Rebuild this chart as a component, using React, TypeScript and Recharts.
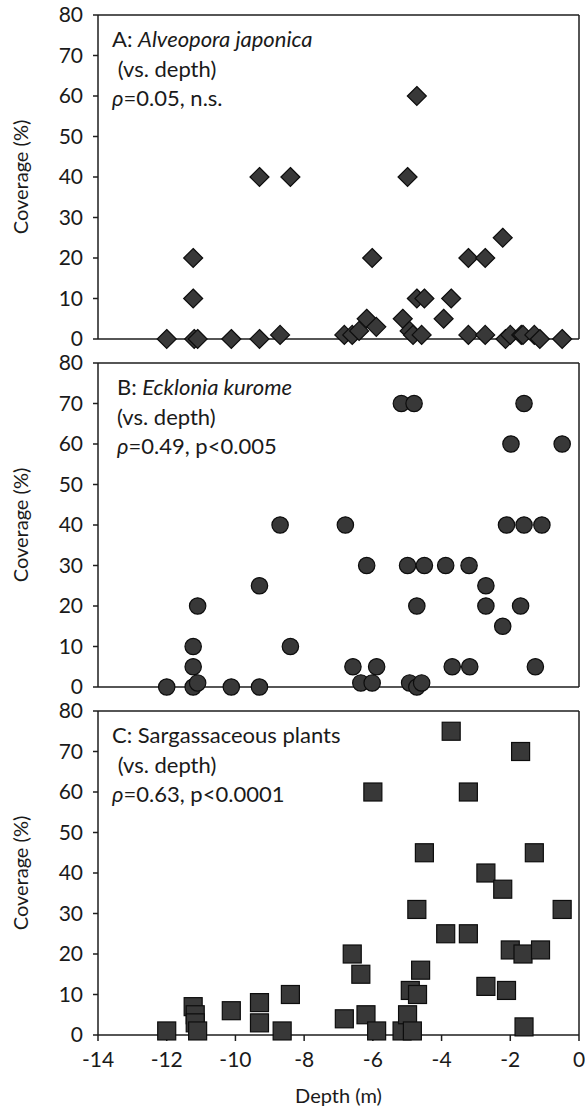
import { ReferenceLine, Scatter, ScatterChart, XAxis, YAxis } from 'recharts'

const depthTicks = [-14, -12, -10, -8, -6, -4, -2, 0]
const coverTicks = [0, 10, 20, 30, 40, 50, 60, 70, 80]

// A: Alveopora japonica
const aDepth = [-12, -11.23, -11.23, -11.2, -11.1, -10.12, -9.3, -9.3, -8.7, -8.4, -6.83, -6.6, -6.4, -6.18, -6.02, -5.9, -5.13, -4.99, -4.93, -4.83, -4.72, -4.72, -4.58, -4.5, -3.94, -3.72, -3.22, -3.22, -2.73, -2.73, -2.22, -2.14, -2.0, -1.68, -1.63, -1.3, -1.14, -0.49]
const aCover = [0, 20, 10, 0, 0, 0, 40, 0, 1, 40, 1, 1, 2, 5, 20, 3, 5, 40, 2, 1, 60, 10, 1, 10, 5, 10, 20, 1, 20, 1, 25, 0, 1, 1, 1, 1, 0, 0]

// B: Ecklonia kurome
const bDepth = [-12, -11.23, -11.1, -11.23, -11.23, -11.1, -10.12, -9.3, -9.3, -8.7, -8.4, -6.8, -6.58, -6.35, -6.18, -6.02, -5.89, -5.17, -4.99, -4.93, -4.8, -4.72, -4.72, -4.58, -4.5, -3.88, -3.69, -3.2, -3.18, -2.71, -2.71, -2.22, -2.11, -1.98, -1.7, -1.6, -1.6, -1.27, -1.08, -0.49]
const bCover = [0, 0, 1, 5, 10, 20, 0, 0, 25, 40, 10, 40, 5, 1, 30, 1, 5, 70, 30, 1, 70, 20, 0, 1, 30, 30, 5, 30, 5, 25, 20, 15, 40, 60, 20, 70, 40, 5, 40, 60]

// C: Sargassaceous plants
const cDepth = [-12, -11.23, -11.17, -11.17, -11.1, -10.12, -9.3, -9.3, -8.64, -8.4, -6.83, -6.6, -6.35, -6.2, -6.0, -5.89, -5.15, -4.99, -4.91, -4.85, -4.72, -4.7, -4.61, -4.5, -3.88, -3.72, -3.22, -3.22, -2.71, -2.71, -2.22, -2.11, -2.0, -1.7, -1.63, -1.6, -1.3, -1.12, -0.49]
const cCover = [1, 7, 5, 3, 1, 6, 8, 3, 1, 10, 4, 20, 15, 5, 60, 1, 1, 5, 11, 1, 31, 10, 16, 45, 25, 75, 60, 25, 40, 12, 36, 11, 21, 70, 20, 2, 45, 21, 31]

const zip = (xs: number[], ys: number[]) => xs.map((x, i) => ({ depth: x, cover: ys[i] }))

const FILL = '#383838'
const EDGE = '#0d0d0d'
const FONT = 'Lato, "Open Sans", sans-serif'
const INK = '#1a1a1a'

const Diamond = (p: any) => {
  const { cx, cy } = p
  const r = 9.5
  return <polygon points={`${cx},${cy - r} ${cx + r},${cy} ${cx},${cy + r} ${cx - r},${cy}`} fill={FILL} stroke={EDGE} strokeWidth={1.2} />
}
const Dot = (p: any) => <circle cx={p.cx} cy={p.cy} r={8.2} fill={FILL} stroke={EDGE} strokeWidth={1.2} />
const Square = (p: any) => <rect x={p.cx - 9} y={p.cy - 9} width={18} height={18} fill={FILL} stroke={EDGE} strokeWidth={1.2} />

const axisStroke = '#1e1e1e'
const tickStyle = { fill: INK, fontSize: 21, fontFamily: FONT }

type PanelProps = {
  data: { depth: number; cover: number }[]
  shape: (p: any) => any
  top: number
  textLeft: number
  last?: boolean
  lines: React.ReactNode[]
}

function Panel({ data, shape, top, textLeft, last, lines }: PanelProps) {
  // non-last panels are a bit taller than their slot so the "0" label is not clipped
  const height = last ? 414 : 360
  return (
    <div style={{ position: 'absolute', left: 0, top, width: 585, height }}>
      <ScatterChart width={585} height={height} margin={{ top: 15, right: 6, bottom: last ? 7 : 12, left: 0 }}>
        <XAxis
          type="number"
          dataKey="depth"
          domain={[-14, 0]}
          ticks={depthTicks}
          interval={0}
          height={last ? 68 : 9}
          tick={last ? tickStyle : false}
          tickSize={6}
          tickMargin={11}
          stroke={axisStroke}
          strokeWidth={1.5}
          label={last ? { value: 'Depth (m)', position: 'insideBottom', offset: 0, style: { fill: INK, fontSize: 20, fontFamily: FONT } } : undefined}
        />
        <YAxis
          type="number"
          dataKey="cover"
          domain={[0, 80]}
          ticks={coverTicks}
          interval={0}
          width={98}
          tick={tickStyle}
          tickSize={5}
          tickMargin={10}
          stroke={axisStroke}
          strokeWidth={1.5}
          label={{ value: 'Coverage (%)', angle: -90, position: 'insideLeft', offset: 21, style: { textAnchor: 'middle', fill: INK, fontSize: 20, fontFamily: FONT } }}
        />
        <ReferenceLine y={80} stroke={axisStroke} strokeWidth={1.5} />
        <ReferenceLine x={0} stroke={axisStroke} strokeWidth={1.5} />
        <Scatter data={data} shape={shape} isAnimationActive={false} />
      </ScatterChart>
      <div style={{ position: 'absolute', left: textLeft, top: 24, fontFamily: FONT, fontSize: 22, color: INK, lineHeight: '29.5px', whiteSpace: 'pre' }}>
        {lines.map((l, i) => (
          <div key={i}>{l}</div>
        ))}
      </div>
    </div>
  )
}

export default function App() {
  return (
    <div style={{ position: 'absolute', left: 0, top: 0, width: 585, height: 1110, background: '#fff' }}>
      <Panel
        data={zip(aDepth, aCover)}
        shape={Diamond}
        top={0}
        textLeft={112}
        lines={[
          <>A: <i>Alveopora japonica</i></>,
          <> (vs. depth)</>,
          <><i>ρ</i>=0.05, n.s.</>,
        ]}
      />
      <Panel
        data={zip(bDepth, bCover)}
        shape={Dot}
        top={348}
        textLeft={117}
        lines={[
          <>B: <i>Ecklonia kurome</i></>,
          <>(vs. depth)</>,
          <><i>ρ</i>=0.49, p&lt;0.005</>,
        ]}
      />
      <Panel
        data={zip(cDepth, cCover)}
        shape={Square}
        top={696}
        textLeft={112}
        last
        lines={[
          <>C: Sargassaceous plants</>,
          <> (vs. depth)</>,
          <><i>ρ</i>=0.63, p&lt;0.0001</>,
        ]}
      />
    </div>
  )
}
